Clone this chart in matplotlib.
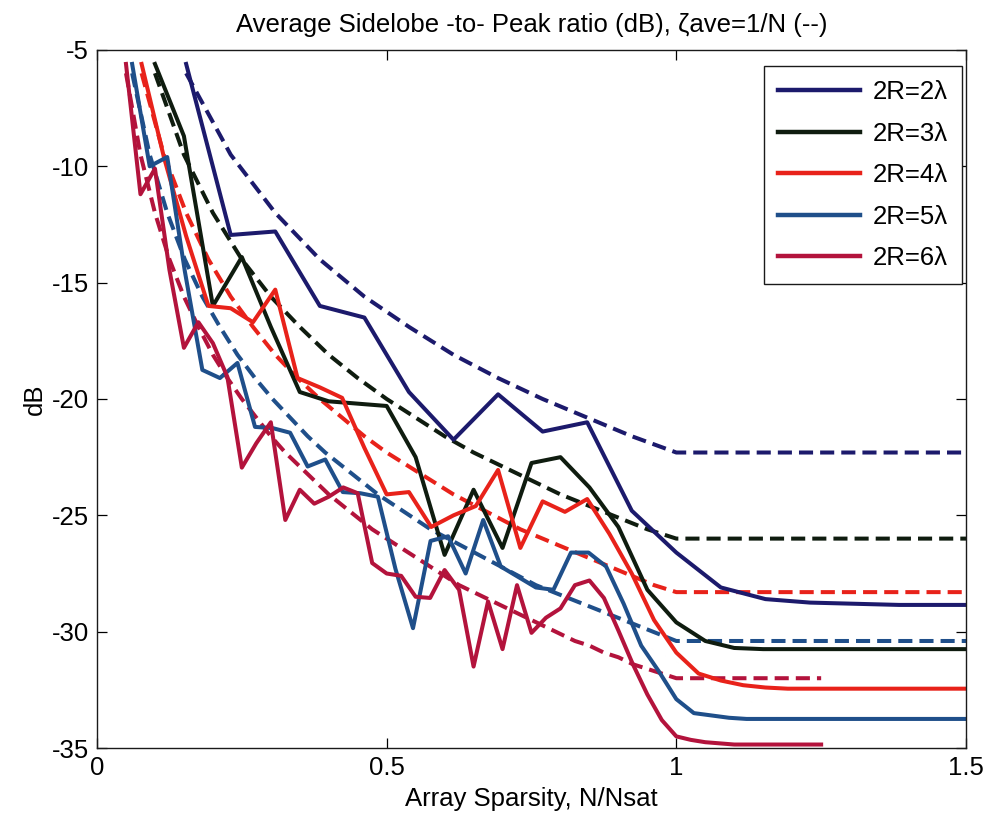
import numpy as np
import matplotlib
matplotlib.use("Agg")
import matplotlib.pyplot as plt

plt.rcParams['font.family'] = ['Liberation Sans', 'DejaVu Sans']
plt.rcParams['axes.unicode_minus'] = False

# Aperture diameters and the number of elements at which each array saturates
labels = ['2R=2λ', '2R=3λ', '2R=4λ', '2R=5λ', '2R=6λ']
colors = ['#1c1a6c', '#0f1c0f', '#e8221a', '#1f4f8a', '#b3133c']
nsat = [13, 20, 26, 33, 40]
n_first = 2
n_last = 50

# Simulated average sidelobe-to-peak ratio (dB), one value per element count N = 2, 3, ...
sll_2 = [-5.6, -12.95, -12.8, -16.0, -16.5, -19.7, -21.75, -19.8, -21.4, -21.0,
         -24.8, -26.6, -28.1, -28.6, -28.75, -28.8, -28.85, -28.85, -28.85]
sll_3 = [-5.6, -8.7, -16.0, -13.9, -16.9, -19.7, -20.1, -20.2, -20.3, -22.5,
         -26.7, -23.9, -26.4, -22.75, -22.5, -23.8, -25.5, -28.2, -29.6, -30.4,
         -30.7, -30.75, -30.75, -30.75, -30.75, -30.75, -30.75, -30.75, -30.75]
sll_4 = [-5.6, -9.6, -13.0, -16.0, -16.1, -16.7, -15.3, -19.1, -19.5, -19.95,
         -22.1, -24.1, -24.0, -25.5, -25.0, -24.6, -23.05, -26.4, -24.4, -24.85,
         -24.3, -25.8, -27.5, -29.5, -30.9, -31.8, -32.1, -32.3, -32.4, -32.45,
         -32.45, -32.45, -32.45, -32.45, -32.45, -32.45, -32.45, -32.45]
sll_5 = [-5.6, -10.0, -9.6, -14.5, -18.75, -19.1, -18.45, -21.2, -21.25, -21.45,
         -22.9, -22.6, -24.0, -24.05, -24.2, -27.3, -29.85, -26.1, -25.9, -27.5,
         -25.2, -27.2, -27.65, -28.1, -28.2, -26.6, -26.6, -27.2, -28.8, -30.6,
         -31.7, -32.9, -33.5, -33.6, -33.7, -33.75, -33.75, -33.75, -33.75, -33.75,
         -33.75, -33.75, -33.75, -33.75, -33.75, -33.75, -33.75, -33.75, -33.75]
sll_6 = [-5.6, -11.2, -10.1, -14.45, -17.8, -16.7, -17.6, -19.05, -22.95, -21.9,
         -21.0, -25.2, -23.9, -24.5, -24.2, -23.8, -24.05, -27.05, -27.5, -27.6,
         -28.5, -28.55, -27.35, -28.2, -31.5, -28.7, -30.75, -28.0, -30.05, -29.4,
         -29.0, -28.0, -27.8, -28.55, -29.95, -31.4, -32.7, -33.8, -34.5, -34.65,
         -34.75, -34.8, -34.85, -34.85, -34.85, -34.85, -34.85, -34.85, -34.85]
measured = [sll_2, sll_3, sll_4, sll_5, sll_6]

# Ideal level for zeta_ave = 1/N, for N = 2 ... 40 (dB)
ideal_db = [-6.0, -9.5, -12.0, -14.0, -15.6, -16.9, -18.1, -19.1, -20.0, -20.8,
            -21.6, -22.3, -22.9, -23.5, -24.1, -24.6, -25.1, -25.6, -26.0, -26.4,
            -26.8, -27.2, -27.6, -28.0, -28.3, -28.6, -28.9, -29.2, -29.5, -29.8,
            -30.1, -30.4, -30.6, -30.9, -31.1, -31.4, -31.6, -31.8, -32.0]

xticks = [0, 0.5, 1, 1.5]
xtick_labels = ['0', '0.5', '1', '1.5']
yticks = [-35, -30, -25, -20, -15, -10, -5]

fig = plt.figure(figsize=(9.88, 8.22), dpi=100)
ax = fig.add_axes([0.0982, 0.0900, 0.8795, 0.8492])

lw = 2.9
fs = 18.5
# ideal (dashed) curves: follow 1/N up to saturation, then stay flat
for ns, col in zip(nsat, colors):
    n = np.arange(n_first, ns + 1)
    y = np.array(ideal_db[:ns - n_first + 1])
    n = np.append(n, n_last)
    y = np.append(y, y[-1])
    ax.plot(n / ns, y, color=col, lw=lw, ls=(0, (3.5, 1.75)))

# simulated (solid) curves
for vals, ns, col, lab in zip(measured, nsat, colors, labels):
    n = np.arange(n_first, n_first + len(vals))
    ax.plot(n / ns, vals, color=col, lw=lw, label=lab)

ax.set_xlim(0, 1.5)
ax.set_ylim(-35, -5)
ax.set_xticks(xticks)
ax.set_xticklabels(xtick_labels)
ax.set_yticks(yticks)
ax.tick_params(direction='in', top=True, right=True, length=7, width=0.9,
               labelsize=fs, pad=6)
for sp in ax.spines.values():
    sp.set_linewidth(1.0)
    sp.set_color('#1a1a1a')

ax.set_xlabel('Array Sparsity, N/Nsat', fontsize=fs, labelpad=5)
ax.set_ylabel('dB', fontsize=fs, labelpad=3)
ax.set_title('Average Sidelobe -to- Peak ratio (dB), ζave=1/N (--)', fontsize=fs, pad=13)

leg = ax.legend(loc='upper right', bbox_to_anchor=(0.996, 0.977), borderaxespad=0,
                fontsize=fs, handlelength=3.2, handletextpad=0.5, labelspacing=0.68,
                borderpad=0.55, fancybox=False, framealpha=1, edgecolor='#1a1a1a')
leg.get_frame().set_linewidth(1.0)
for line in leg.get_lines():
    line.set_linewidth(3.2)

fig.savefig('out.png', dpi=100, facecolor='white')
